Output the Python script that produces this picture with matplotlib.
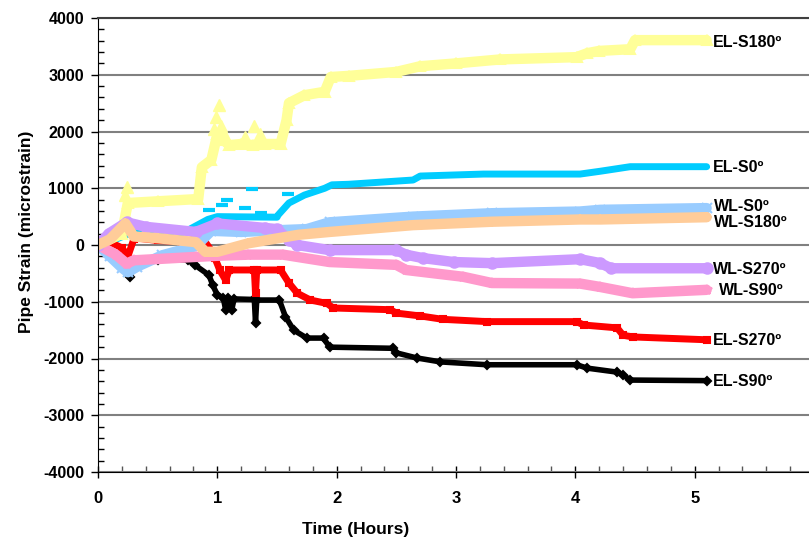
import matplotlib.pyplot as plt
from matplotlib.ticker import MultipleLocator

plt.rcParams['font.family'] = ['Liberation Sans', 'DejaVu Sans']
plt.rcParams['font.weight'] = 'bold'
plt.rcParams['axes.unicode_minus'] = False

# time (hours) and strain (microstrain)
bk_t = [0, 0.1, 0.2, 0.27, 0.3, 0.5, 0.75, 0.81, 0.93, 0.96, 1.0, 1.05, 1.07, 1.09, 1.12, 1.14, 1.31, 1.32,
        1.33, 1.52, 1.57, 1.64, 1.75, 1.89, 1.94, 2.47, 2.5, 2.67, 2.87, 3.26, 4.01, 4.1, 4.35, 4.4, 4.46, 5.1]
bk_v = [0, -100, -300, -560, -300, -260, -260, -350, -530, -700, -880, -930, -1150, -930, -1150, -950, -960, -1370,
        -970, -970, -1260, -1500, -1640, -1640, -1800, -1820, -1900, -1990, -2060, -2110, -2110, -2170, -2240, -2290, -2380, -2390]

rd_t = [0, 0.1, 0.2, 0.25, 0.3, 0.33, 0.5, 0.7, 0.82, 0.85, 0.95, 0.98, 1.02, 1.07, 1.1, 1.31, 1.32, 1.33,
        1.53, 1.6, 1.67, 1.78, 1.92, 1.97, 2.45, 2.5, 2.7, 2.89, 3.26, 4.01, 4.07, 4.35, 4.4, 4.48, 5.1]
rd_v = [0, 50, -50, -200, 100, 120, 80, 60, 100, 200, -100, -230, -440, -620, -440, -440, -850, -440,
        -440, -670, -850, -970, -1030, -1110, -1140, -1200, -1250, -1310, -1350, -1350, -1410, -1460, -1590, -1620, -1670]

yl_t = [0, 0.2, 0.25, 0.5, 0.84, 0.87, 0.95, 1.0, 1.05, 1.1, 1.2, 1.3, 1.4, 1.53,
        1.58, 1.6, 1.73, 1.9, 1.95, 2.1, 2.5, 2.7, 3.0, 3.37, 4.01, 4.1, 4.2, 4.46, 4.5, 5.1]
yl_v = [0, 200, 740, 770, 810, 1370, 1500, 1950, 1850, 1760, 1780, 1760, 1780, 1780,
        2200, 2500, 2640, 2700, 2960, 2980, 3050, 3150, 3200, 3270, 3310, 3380, 3420, 3450, 3610, 3610]
# scattered yellow readings
yl_out_t = [0.23, 0.24, 0.97, 0.99, 1.01, 1.03, 1.06, 1.23, 1.31, 1.36]
yl_out_v = [880, 1020, 2050, 2250, 2470, 2100, 1950, 1900, 2100, 1950]

lb_t = [0, 0.1, 0.2, 0.25, 0.33, 0.54, 0.82, 0.95, 1.2, 1.5, 1.75, 1.94, 2.64, 3.3, 4.04, 4.21, 5.1]
lb_v = [0, -200, -400, -480, -380, -180, -20, 250, 230, 260, 280, 400, 500, 560, 590, 620, 650]

pk_t = [0, 0.15, 0.24, 0.3, 0.82, 1.0, 1.26, 1.55, 1.94, 2.5, 2.58, 3.06, 3.3, 4.04, 4.21, 4.48, 5.1]
pk_v = [0, -170, -330, -270, -210, -190, -170, -170, -300, -350, -440, -560, -670, -680, -740, -850, -790]

lv_t = [0, 0.09, 0.24, 0.4, 0.82, 1.0, 1.4, 1.5, 1.6, 1.67, 1.94, 2.5, 2.58, 2.72, 2.98, 3.3, 4.04, 4.21, 4.3, 5.1]
lv_v = [0, 200, 400, 320, 230, 380, 300, 280, 90, 0, -90, -90, -170, -230, -300, -320, -250, -320, -410, -410]

pc_t = [0, 0.1, 0.23, 0.3, 0.5, 0.82, 0.9, 1.0, 1.26, 1.68, 1.94, 2.64, 3.3, 4.04, 4.21, 5.1]
pc_v = [0, 100, 380, 150, 120, 50, -120, -120, 30, 180, 230, 350, 410, 450, 450, 490]

cy_t = [0, 0.15, 0.33, 0.42, 0.7, 0.92, 1.0, 1.5, 1.51, 1.6, 1.73, 1.9, 1.96, 2.1, 2.64, 2.7, 3.23, 4.04, 4.21, 4.46, 5.1]
cy_v = [0, 100, 260, 250, 200, 450, 500, 490, 530, 740, 880, 1000, 1060, 1070, 1145, 1215, 1250, 1250, 1300, 1380, 1380]
# stray cyan readings (dashes above the band)
cy_out_t = [0.93, 1.04, 1.08, 1.23, 1.29, 1.37, 1.59]
cy_out_v = [620, 700, 790, 650, 990, 560, 900]

# (t, v, colour, marker, width, label, label y, label x)
series = [
    (cy_t, cy_v, '#00ccff', '_', 5, 'EL-S0º', 1374, 5.15),
    (bk_t, bk_v, 'black', 'D', 4, 'EL-S90º', -2414, 5.15),
    (rd_t, rd_v, '#ff0000', 's', 5, 'EL-S270º', -1690, 5.15),
    (yl_t, yl_v, '#ffff99', '^', 7.5, 'EL-S180º', 3577, 5.15),
    (lb_t, lb_v, '#99ccff', 'x', 7.5, 'WL-S0º', 680, 5.16),
    (pk_t, pk_v, '#ff99cc', '*', 7.5, 'WL-S90º', -810, 5.2),
    (lv_t, lv_v, '#cc99ff', 'o', 7.5, 'WL-S270º', -440, 5.15),
    (pc_t, pc_v, '#ffcc99', '+', 7.5, 'WL-S180º', 405, 5.16),
]

fig = plt.figure(figsize=(8.09, 5.44), dpi=100)
ax = fig.add_axes([98 / 809, 72 / 544, 716 / 809, 454 / 544])

for t, v, c, m, lw, name, ly, lx in series:
    ax.plot(t, v, color=c, lw=lw, marker=m, ms=lw, mec=c, mew=1.5,
            solid_joinstyle='round', solid_capstyle='round')
    ax.text(lx, ly, name, fontsize=11.5, fontweight='bold', va='center', ha='left')

ax.plot(cy_out_t, cy_out_v, ls='none', marker='_', ms=9, mew=3, color='#00ccff', zorder=1.9)
ax.plot(yl_out_t, yl_out_v, ls='none', marker='^', ms=9, color='#ffff99', zorder=2.1)

ax.set_xlim(0, 6)
ax.set_ylim(-4000, 4000)
ax.xaxis.set_major_locator(MultipleLocator(1))
ax.xaxis.set_minor_locator(MultipleLocator(0.2))
ax.yaxis.set_major_locator(MultipleLocator(1000))
ax.yaxis.set_minor_locator(MultipleLocator(200))
ax.tick_params(axis='x', which='major', direction='inout', length=8, width=1, pad=10, labelsize=12)
ax.tick_params(axis='x', which='minor', direction='in', length=4, width=1, color='#555555')
ax.tick_params(axis='y', which='major', direction='out', length=5, width=1, pad=5, labelsize=11.5)
ax.tick_params(axis='y', which='minor', direction='in', length=4, width=1)
for lab in ax.get_xticklabels() + ax.get_yticklabels():
    lab.set_fontweight('bold')

ax.yaxis.grid(True, which='major', color='#808080', lw=1.5)
ax.set_axisbelow(True)
ax.spines['right'].set_visible(False)
ax.spines['top'].set_color('#404040')
ax.spines['top'].set_linewidth(1.5)

ax.set_xlabel('Time (Hours)', fontsize=12.5, fontweight='bold')
ax.xaxis.set_label_coords(0.36, -0.11)
ax.set_ylabel('Pipe Strain (microstrain)', fontsize=12.5, fontweight='bold')
ax.yaxis.set_label_coords(-0.09, 0.53)

fig.savefig('out.png', dpi=100)
